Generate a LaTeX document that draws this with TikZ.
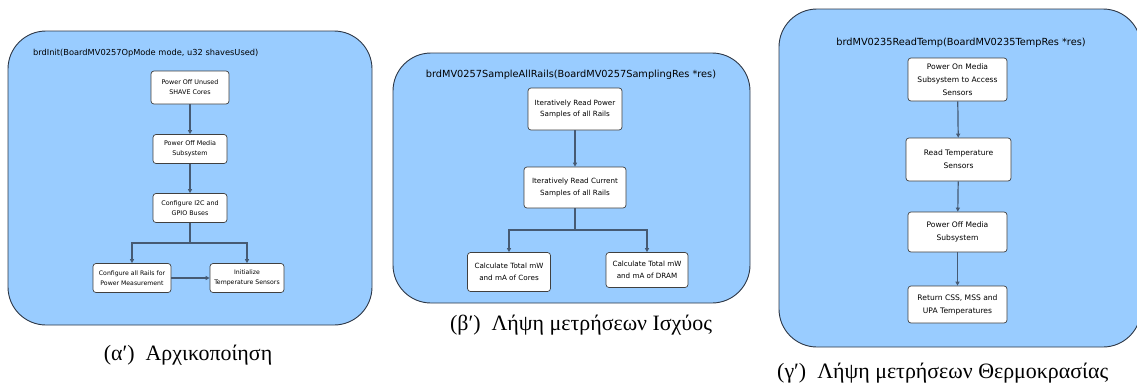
\documentclass[tikz,border=0pt]{standalone}
\usepackage{fontspec}
\setmainfont{DejaVu Sans}
\newfontfamily\capfont{Liberation Serif}
\definecolor{panelblue}{RGB}{153,204,255}
\definecolor{paneledge}{RGB}{45,55,70}
\definecolor{linkgray}{RGB}{70,90,115}
\usetikzlibrary{arrows.meta,positioning,calc}

\begin{document}
\begin{tikzpicture}[x=1bp,y=-1bp,
      panel/.style={draw=paneledge, fill=panelblue, line width=0.9bp,
                    rounded corners=38bp},
      stepbox/.style={draw=black!75, fill=white, rounded corners=3bp,
                      align=center, inner sep=0pt, line width=0.7bp},
      title/.style={inner sep=0pt, anchor=west},
      arr/.style={-{Triangle[length=4bp,width=4bp]}, line width=1.2bp, linkgray},
      lnk/.style={line width=1.2bp, linkgray},
      caption/.style={inner sep=0pt, font=\capfont\fontsize{22}{25}\selectfont}
    ]
    \clip (0,0) rectangle (1137,390);

    % (a) init
    \draw[panel] (8,31) rectangle (372,325);
    \node[title, font=\fontsize{8.3}{9}\selectfont] (ta) at (33,53)
      {brdInit(BoardMV0257OpMode mode, u32 shavesUsed)};
    \node[stepbox, minimum width=78bp, minimum height=33bp,
          font=\fontsize{6.4}{10}\selectfont] (a1) at (190,87.5)
      {Power Off Unused\\SHAVE Cores};
    \node[stepbox, minimum width=74bp, minimum height=29bp,
          font=\fontsize{6.4}{10}\selectfont] (a2) at (190,149)
      {Power Off Media\\Subsystem};
    \node[stepbox, minimum width=74bp, minimum height=29bp,
          font=\fontsize{6.4}{10}\selectfont] (a3) at (190,208)
      {Configure I2C and\\GPIO Buses};
    \node[stepbox, minimum width=78bp, minimum height=29bp,
          font=\fontsize{6.2}{10}\selectfont] (a4) at (132,278)
      {Configure all Rails for\\Power Measurement};
    \node[stepbox, minimum width=74bp, minimum height=29bp,
          font=\fontsize{6.2}{10}\selectfont] (a5) at (247,278)
      {Initialize\\Temperature Sensors};
    \coordinate (sa) at (190,243);

    \draw[arr] (a1)--(a2);
    \draw[arr] (a2)--(a3);
    \draw[lnk] (a3)--(sa);
    \draw[arr] (sa)-|(a4);
    \draw[arr] (sa)-|(a5);
    \draw[arr] (a4)--(a5);

    % (b) sampling
    \draw[panel] (393,53) rectangle (750,303);
    \node[inner sep=0pt, font=\fontsize{9.8}{11}\selectfont] (tb) at (571,75)
      {brdMV0257SampleAllRails(BoardMV0257SamplingRes *res)};
    \node[stepbox, minimum width=94bp, minimum height=42bp,
          font=\fontsize{7.2}{12}\selectfont] (b1) at (575,109)
      {Iteratively Read Power\\Samples of all Rails};
    \node[stepbox, minimum width=102bp, minimum height=41bp,
          font=\fontsize{7.2}{12}\selectfont] (b2) at (575,187.5)
      {Iteratively Read Current\\Samples of all Rails};
    \node[stepbox, minimum width=83bp, minimum height=39bp,
          font=\fontsize{7.2}{12}\selectfont] (b3) at (509,272)
      {Calculate Total mW\\and mA of Cores};
    \node[stepbox, minimum width=82bp, minimum height=35bp,
          font=\fontsize{7.2}{12}\selectfont] (b4) at (647,270)
      {Calculate Total mW\\and mA of DRAM};
    \coordinate (sb) at (575,230);

    \draw[arr] (b1)--(b2);
    \draw[lnk] (b2)--(sb);
    \draw[arr] (sb)-|(b3);
    \draw[arr] (sb)-|(b4);

    % (c) temperature
    \draw[panel] (779,9) rectangle (1141,347);
    \node[inner sep=0pt, font=\fontsize{9.8}{11}\selectfont] (tc) at (961,43)
      {brdMV0235ReadTemp(BoardMV0235TempRes *res)};
    \node[stepbox, minimum width=99bp, minimum height=43bp,
          font=\fontsize{7.6}{13}\selectfont] (c1) at (957.5,79.5)
      {Power On Media\\Subsystem to Access\\Sensors};
    \node[stepbox, minimum width=105bp, minimum height=43bp,
          font=\fontsize{7.6}{13}\selectfont] (c2) at (958.5,159.5)
      {Read Temperature\\Sensors};
    \node[stepbox, minimum width=99bp, minimum height=40bp,
          font=\fontsize{7.6}{13}\selectfont] (c3) at (957.5,232)
      {Power Off Media\\Subsystem};
    \node[stepbox, minimum width=99bp, minimum height=37bp,
          font=\fontsize{7.6}{13}\selectfont] (c4) at (957.5,304.5)
      {Return CSS, MSS and\\UPA Temperatures};

    \draw[arr] (c1)--(c2);
    \draw[arr] (c2)--(c3);
    \draw[arr] (c3)--(c4);

    % captions
    \node[caption] (capa) at (188,355) {(α′)\enspace Αρχικοποίηση};
    \node[caption] (capb) at (581,325) {(β′)\enspace Λήψη μετρήσεων Ισχύος};
    \node[caption, anchor=west] (capc) at (777,373)
      {(γ′)\enspace Λήψη μετρήσεων Θερμοκρασίας};
  \end{tikzpicture}
\end{document}
